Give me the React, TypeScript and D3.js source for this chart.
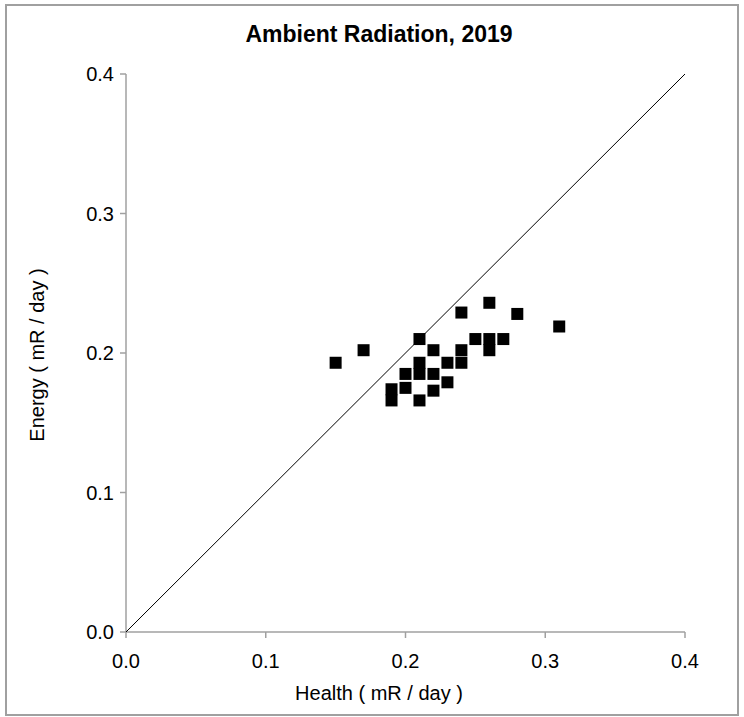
import React from "react";
import * as d3 from "d3";

const title = "Ambient Radiation, 2019";
const xLabel = "Health ( mR / day )";
const yLabel = "Energy ( mR / day )";
const tickValues = [0.0, 0.1, 0.2, 0.3, 0.4];

const health = [0.15, 0.17, 0.21, 0.24, 0.26, 0.28, 0.31, 0.25, 0.26, 0.26, 0.27, 0.24, 0.24, 0.22, 0.23, 0.21, 0.21, 0.20, 0.22, 0.23, 0.19, 0.19, 0.20, 0.22, 0.21];
const energy = [0.193, 0.202, 0.210, 0.229, 0.236, 0.228, 0.219, 0.210, 0.210, 0.202, 0.210, 0.202, 0.193, 0.202, 0.193, 0.193, 0.185, 0.185, 0.185, 0.179, 0.174, 0.166, 0.175, 0.173, 0.166];

export default function App() {
  const W = 744, H = 717;
  const x = d3.scaleLinear().domain([0, 0.4]).range([126, 685]);
  const y = d3.scaleLinear().domain([0, 0.4]).range([632, 74]);
  const axisColor = "#a0a0a0";
  const font = "'Liberation Sans', Arial, sans-serif";
  const sq = 12;
  const line = d3.line<[number, number]>().x(d => x(d[0])).y(d => y(d[1]));
  return (
    <svg width={W} height={H} style={{ position: "absolute", left: 0, top: 0, background: "#fff" }} fontFamily={font}>
      <rect x={6} y={5} width={732} height={710} fill="#fff" stroke={axisColor} strokeWidth={2} />
      <text x={379} y={42} textAnchor="middle" fontWeight="bold" fontSize={23} fill="#000">{title}</text>
      {/* y axis */}
      <line x1={x(0)} x2={x(0)} y1={y(0)} y2={y(0.4)} stroke={axisColor} strokeWidth={1.5} />
      {tickValues.map(t => (
        <g key={"y" + t}>
          <line x1={x(0) - 6} x2={x(0)} y1={y(t)} y2={y(t)} stroke={axisColor} strokeWidth={1.5} />
          <text x={x(0) - 12} y={y(t) + 7} textAnchor="end" fontSize={20} fill="#000">{t.toFixed(1)}</text>
        </g>
      ))}
      {/* x axis */}
      <line x1={x(0)} x2={x(0.4)} y1={y(0)} y2={y(0)} stroke={axisColor} strokeWidth={1.5} />
      {tickValues.map(t => (
        <g key={"x" + t}>
          <line x1={x(t)} x2={x(t)} y1={y(0)} y2={y(0) + 6} stroke={axisColor} strokeWidth={1.5} />
          <text x={x(t)} y={668} textAnchor="middle" fontSize={20} fill="#000">{t.toFixed(1)}</text>
        </g>
      ))}
      <text x={379} y={700} textAnchor="middle" fontSize={20} fill="#000">{xLabel}</text>
      <text transform={`translate(44,355) rotate(-90)`} textAnchor="middle" fontSize={20} fill="#000">{yLabel}</text>
      <path d={line([[0, 0], [0.4, 0.4]]) || ""} stroke="#000" strokeWidth={1} fill="none" />
      {health.map((h, i) => (
        <rect key={i} x={x(h) - sq / 2} y={y(energy[i]) - sq / 2} width={sq} height={sq} fill="#000" />
      ))}
    </svg>
  );
}
